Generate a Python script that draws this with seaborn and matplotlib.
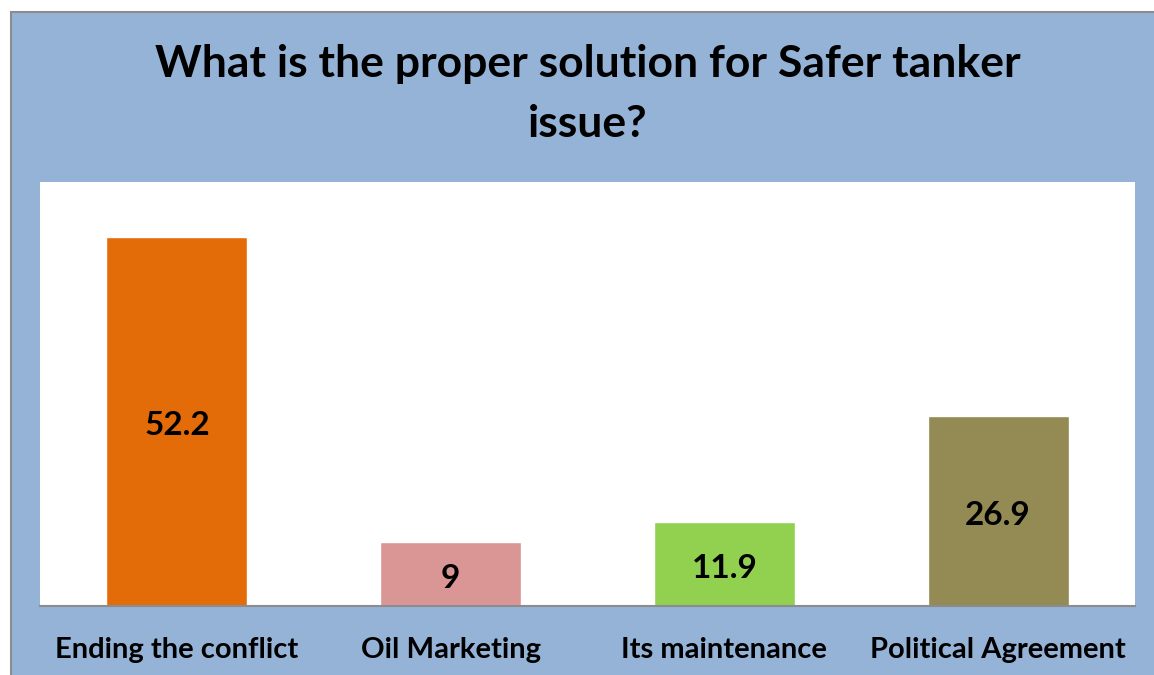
import matplotlib
matplotlib.use("Agg")
import matplotlib.pyplot as plt
import seaborn as sns
import pandas as pd
from matplotlib.patches import Rectangle

categories = ["Ending the conflict", "Oil Marketing", "Its maintenance", "Political Agreement"]
values = [52.2, 9, 11.9, 26.9]
value_labels = ["52.2", "9", "11.9", "26.9"]
colors = ["#E36C09", "#D99694", "#92D050", "#948A54"]
title = "What is the proper solution for Safer tanker\nissue?"

sns.set_theme(style="white")
plt.rcParams['font.family'] = ['Lato', 'DejaVu Sans']

W, H = 1154, 675
fig = plt.figure(figsize=(W / 100, H / 100), dpi=100)
fig.patch.set_facecolor("white")
bg = Rectangle((11 / W, -0.05), 1 - 11 / W + 0.05, (H - 12) / H + 0.05, transform=fig.transFigure,
               facecolor="#95B3D7", edgecolor="#8C8C8C", linewidth=1.5, zorder=-10)
fig.patches.append(bg)

ax = fig.add_axes([40 / W, (H - 606) / H, 1095 / W, 424 / H])
ax.set_facecolor("white")
df = pd.DataFrame({"cat": categories, "val": values})
sns.barplot(data=df, x="cat", y="val", hue="cat", palette=colors, legend=False,
            width=0.515, saturation=1, ax=ax)
ax.set_ylim(0, 60)
ax.set_xlim(-0.5, 3.5)
ax.set_yticks([])
ax.set_xlabel("")
ax.set_ylabel("")
for s in ["top", "left", "right"]:
    ax.spines[s].set_visible(False)
ax.spines["bottom"].set_color("#8C8C8C")
ax.spines["bottom"].set_linewidth(1.5)
ax.tick_params(axis="x", length=0, pad=22, labelsize=21)
for lab in ax.get_xticklabels():
    lab.set_fontweight("bold")
    lab.set_color("black")

for i, (v, t) in enumerate(zip(values, value_labels)):
    ax.annotate(t, (i, v / 2), xytext=(0, -3), textcoords="offset points",
                ha="center", va="center", fontsize=24, fontweight="bold", color="black")

fig.text(587.5 / W, 1 - 94 / H, title, ha="center", va="center", fontsize=32,
         fontweight="bold", color="black", linespacing=1.6)

fig.savefig("out.png", dpi=100)
